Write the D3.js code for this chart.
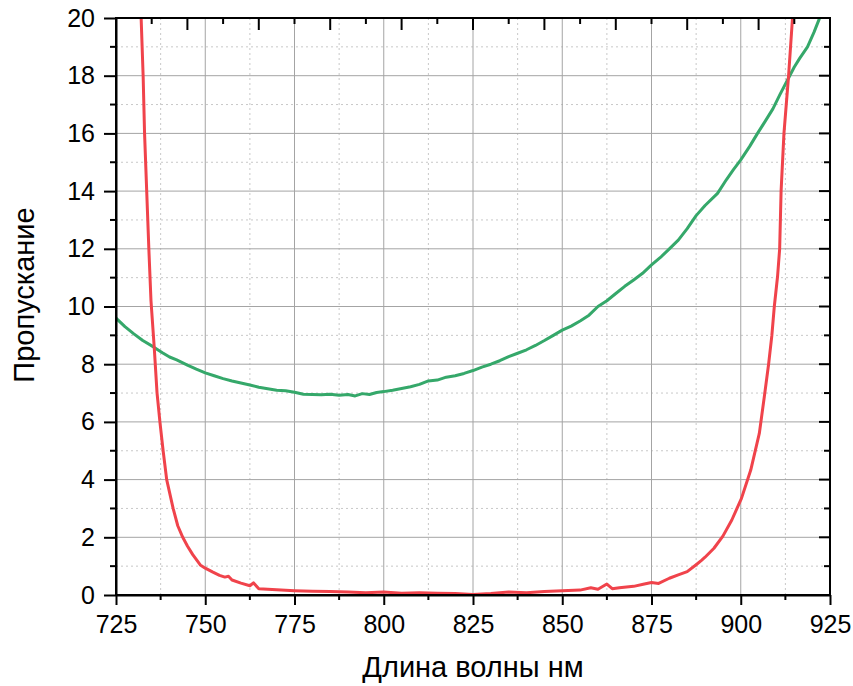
<!DOCTYPE html>
<html><head><meta charset="utf-8">
<script src="https://cdn.jsdelivr.net/npm/d3@7/dist/d3.min.js"></script>
<style>body{margin:0;background:#fff}svg{display:block}text{font-family:"Liberation Sans",Arial,sans-serif;fill:#000}</style>
</head><body><svg id="c" width="853" height="686"></svg>
<script>
const redWl = [731.9,732.6,733.0,733.6,734.2,734.8,735.7,736.5,737.3,738.2,739.2,741.0,742.3,743.7,745.0,746.5,748.6,750,752,754,755.5,756.5,757.5,760,762.5,763.5,765,767.5,770,775,780,785,790,795,800,805,810,815,820,825,830,835,840,845,850,855,858,860,862.5,864,866,870,873,875,877,880,882.5,885,887.5,889,890,892.5,895,897.5,900.2,902.8,905.2,906.6,907.8,908.7,909.4,910.3,910.9,911.3,912.1,913.4,914.5,914.8];
const redVal = [20.5,18,16,14,12,10.2,8.6,7.0,6.0,5.0,4.0,3.0,2.4,2.0,1.7,1.4,1.04,0.93,0.8,0.68,0.62,0.65,0.52,0.41,0.32,0.42,0.22,0.2,0.18,0.15,0.13,0.12,0.1,0.08,0.1,0.06,0.08,0.06,0.05,0.02,0.05,0.1,0.08,0.12,0.15,0.17,0.25,0.2,0.38,0.22,0.25,0.3,0.38,0.43,0.4,0.58,0.7,0.81,1.05,1.2,1.31,1.62,2.04,2.6,3.35,4.33,5.6,6.87,8.0,8.98,10.0,11.03,12,14,16,18,20,20.5];
const greenWl = [725,727.5,730,732.5,735.5,738,740,742,745,747.5,750,752.5,755,757.5,760,762.5,765,767.5,770,772.5,775,777.5,780,782.5,785,787.5,790,792,794,796,798,800,802.5,805,807.5,810,812.5,815,817.5,820,822.5,825,827.5,830,832.5,835,837.5,840,842.5,845,847.5,850,852.5,855,857.5,860,862.5,865,867.5,870,872.5,875,877.5,880,882.5,885,887.5,890,893.5,896,898,900,902.5,904.7,907,909,911,913.1,915,916.5,918.7,920.5,922,922.5];
const greenVal = [9.6,9.3,9.05,8.82,8.6,8.4,8.25,8.15,7.97,7.83,7.7,7.6,7.5,7.42,7.35,7.28,7.2,7.15,7.1,7.08,7.03,6.96,6.95,6.94,6.96,6.92,6.95,6.9,6.98,6.95,7.02,7.05,7.1,7.16,7.22,7.3,7.42,7.45,7.55,7.6,7.68,7.78,7.9,8.0,8.12,8.26,8.38,8.5,8.65,8.82,9.0,9.18,9.32,9.5,9.7,10.0,10.2,10.45,10.7,10.92,11.15,11.44,11.7,12.0,12.3,12.7,13.15,13.5,13.92,14.4,14.75,15.08,15.55,16.0,16.45,16.85,17.35,17.85,18.3,18.6,19.0,19.5,19.97,20.1];
const xTicks = [725,750,775,800,825,850,875,900,925];
const yTicks = [0,2,4,6,8,10,12,14,16,18,20];
const xTitle = "Длина волны нм";
const yTitle = "Пропускание";

const L=116,R=830,T=18,B=595;
const svg=d3.select("#c");
const x=d3.scaleLinear().domain([725,925]).range([L,R]);
const y=d3.scaleLinear().domain([0,20]).range([B,T]);

const xMinor=d3.range(737.5,925,25);
const yMinor=d3.range(1,20,2);
const g=svg.append("g");
g.selectAll(".vm").data(xMinor).join("line").attr("x1",d=>x(d)).attr("x2",d=>x(d)).attr("y1",T).attr("y2",B).attr("stroke","#c8c8c8").attr("stroke-dasharray","2,3");
g.selectAll(".hm").data(yMinor).join("line").attr("x1",L).attr("x2",R).attr("y1",d=>y(d)).attr("y2",d=>y(d)).attr("stroke","#c8c8c8").attr("stroke-dasharray","2,3");
g.selectAll(".vM").data(xTicks.slice(1,-1)).join("line").attr("x1",d=>x(d)).attr("x2",d=>x(d)).attr("y1",T).attr("y2",B).attr("stroke","#a4a4a4");
g.selectAll(".hM").data(yTicks.slice(1,-1)).join("line").attr("x1",L).attr("x2",R).attr("y1",d=>y(d)).attr("y2",d=>y(d)).attr("stroke","#a4a4a4");

svg.append("clipPath").attr("id","clip").append("rect").attr("x",L).attr("y",T).attr("width",R-L).attr("height",B-T);
const line=d3.line().x(d=>x(d[0])).y(d=>y(d[1]));
const plot=svg.append("g").attr("clip-path","url(#clip)");
plot.append("path").datum(greenWl.map((w,i)=>[w,greenVal[i]])).attr("d",line).attr("fill","none").attr("stroke","#35a86a").attr("stroke-width",3).attr("stroke-linejoin","round");
plot.append("path").datum(redWl.map((w,i)=>[w,redVal[i]])).attr("d",line).attr("fill","none").attr("stroke","#f0434b").attr("stroke-width",3).attr("stroke-linejoin","round");

const ax=svg.append("g");
const bottom=d3.axisBottom(x).tickValues(xTicks).tickSize(10).tickSizeOuter(0).tickPadding(10);
const gb=ax.append("g").attr("transform",`translate(0,${B})`).call(bottom);
gb.append("g").selectAll("line").data(xMinor).join("line").attr("x1",d=>x(d)).attr("x2",d=>x(d)).attr("y1",0).attr("y2",5).attr("stroke","#000").attr("stroke-width",2);
const left=d3.axisLeft(y).tickValues(yTicks).tickSize(12).tickSizeOuter(0).tickPadding(9);
const gl=ax.append("g").attr("transform",`translate(${L},0)`).call(left);
gl.append("g").selectAll("line").data(yMinor).join("line").attr("x1",0).attr("x2",-6).attr("y1",d=>y(d)).attr("y2",d=>y(d)).attr("stroke","#000").attr("stroke-width",2);
const topMajor=d3.range(745,925,20), topMinor=d3.range(735,925,20);
const gt=ax.append("g");
gt.selectAll(".a").data(topMajor).join("line").attr("x1",d=>x(d)).attr("x2",d=>x(d)).attr("y1",T).attr("y2",T+12).attr("stroke","#000").attr("stroke-width",2);
gt.selectAll(".b").data(topMinor).join("line").attr("x1",d=>x(d)).attr("x2",d=>x(d)).attr("y1",T).attr("y2",T+6).attr("stroke","#000").attr("stroke-width",2);
const gr=ax.append("g");
gr.selectAll(".a").data(yTicks.slice(1,-1)).join("line").attr("x1",R).attr("x2",R-11).attr("y1",d=>y(d)).attr("y2",d=>y(d)).attr("stroke","#000").attr("stroke-width",2);
gr.selectAll(".b").data(yMinor).join("line").attr("x1",R).attr("x2",R-6).attr("y1",d=>y(d)).attr("y2",d=>y(d)).attr("stroke","#000").attr("stroke-width",2);
ax.append("rect").attr("x",L).attr("y",T).attr("width",R-L).attr("height",B-T).attr("fill","none").attr("stroke","#000").attr("stroke-width",2);

ax.selectAll(".domain").attr("stroke","#000").attr("stroke-width",2);
ax.selectAll(".tick line").attr("stroke","#000").attr("stroke-width",2);
ax.selectAll(".tick text").style("font-size","25px").attr("fill","#000").style("font-family","'Liberation Sans',Arial,sans-serif");

svg.append("text").attr("x",(L+R)/2).attr("y",677).attr("text-anchor","middle").style("font-size","29px").text(xTitle);
svg.append("text").attr("transform","translate(34,295) rotate(-90)").attr("text-anchor","middle").style("font-size","29px").text(yTitle);
</script></body></html>
